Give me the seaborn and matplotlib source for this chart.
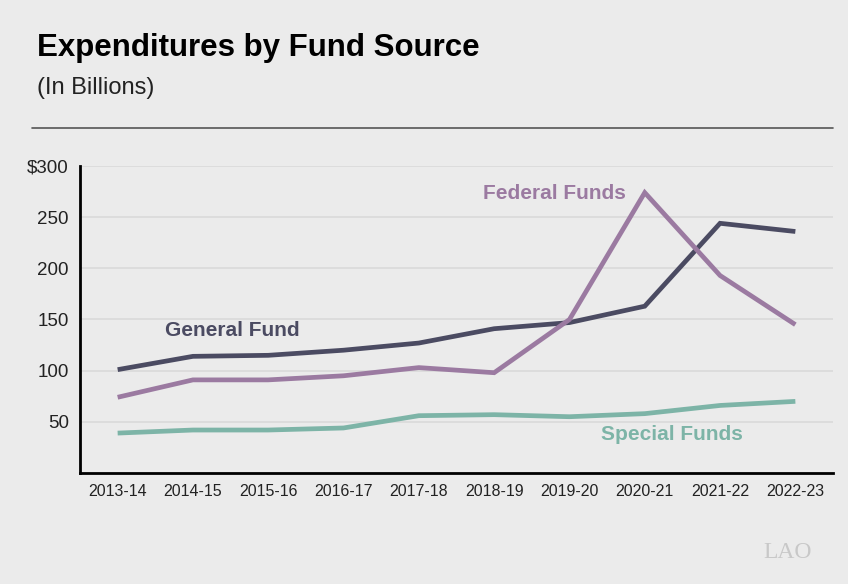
import pandas as pd
import matplotlib.pyplot as plt
import seaborn as sns
from matplotlib.ticker import FixedLocator

# Values (in billions)
years = ['2013-14', '2014-15', '2015-16', '2016-17', '2017-18',
         '2018-19', '2019-20', '2020-21', '2021-22', '2022-23']
general_fund = [101, 114, 115, 120, 127, 141, 147, 163, 244, 236]
federal_funds = [74, 91, 91, 95, 103, 98, 150, 274, 193, 145]
special_funds = [39, 42, 42, 44, 56, 57, 55, 58, 66, 70]

colors = {'General Fund': '#4b4b62', 'Federal Funds': '#9b7aa1', 'Special Funds': '#7db4a7'}

df = pd.DataFrame({
    'year': years * 3,
    'value': general_fund + federal_funds + special_funds,
    'fund': ['General Fund'] * 10 + ['Federal Funds'] * 10 + ['Special Funds'] * 10,
})

bg = '#ebebeb'
sns.set_style('white')
plt.rcParams['font.family'] = ['Liberation Sans', 'DejaVu Sans']

fig = plt.figure(figsize=(8.48, 5.84), dpi=100, facecolor=bg)
ax = fig.add_axes([80 / 848, 111 / 584, 753 / 848, 307 / 584])
ax.set_facecolor(bg)

sns.lineplot(data=df, x='year', y='value', hue='fund', palette=colors,
             linewidth=3.4, legend=False, ax=ax, sort=False)
for line in ax.get_lines():
    line.set_solid_capstyle('butt')
    line.set_solid_joinstyle('miter')

ax.set_xlim(-0.5, 9.5)
ax.set_ylim(0, 300)
ax.set_yticks([50, 100, 150, 200, 250, 300])
ax.set_yticklabels(['50', '100', '150', '200', '250', '$300'])
ax.set_xticks(range(10))
ax.set_xticklabels(years)
ax.xaxis.set_minor_locator(FixedLocator([i - 0.5 for i in range(11)]))
ax.tick_params(axis='x', which='major', length=0, labelsize=11.5, pad=8, colors='#222222')
ax.tick_params(axis='x', which='minor', length=5, width=1.6, direction='out', color='black')
ax.tick_params(axis='y', which='major', length=5, width=1.6, labelsize=13.5, pad=3, colors='#222222')
ax.tick_params(axis='y', color='black')
ax.set_xlabel('')
ax.set_ylabel('')
ax.grid(axis='y', color='#dcdcdc', linewidth=1.4)
ax.set_axisbelow(True)
for side in ['top', 'right']:
    ax.spines[side].set_visible(False)
for side in ['left', 'bottom']:
    ax.spines[side].set_color('black')
    ax.spines[side].set_linewidth(2)

# Series labels
ax.text(0.63, 139, 'General Fund', color=colors['General Fund'], fontsize=15,
        fontweight='bold', va='center')
ax.text(4.85, 273, 'Federal Funds', color=colors['Federal Funds'], fontsize=15,
        fontweight='bold', va='center')
ax.text(6.42, 38, 'Special Funds', color=colors['Special Funds'], fontsize=15,
        fontweight='bold', va='center')

# Title block
fig.text(37 / 848, 1 - 48 / 584, 'Expenditures by Fund Source', fontsize=22.5,
         fontweight='bold', va='center', color='black')
fig.text(37 / 848, 1 - 88 / 584, '(In Billions)', fontsize=17, va='center', color='#222222')
fig.add_artist(plt.Line2D([32 / 848, 833 / 848], [1 - 128 / 584, 1 - 128 / 584],
                          color='#555555', linewidth=1.2))

# LAO mark
fig.text(812 / 848, 1 - 552 / 584, 'LAO', fontsize=17, family='Liberation Serif',
         color='#c8c8c8', ha='right', va='center')

fig.savefig('out.png', dpi=100, facecolor=bg)
